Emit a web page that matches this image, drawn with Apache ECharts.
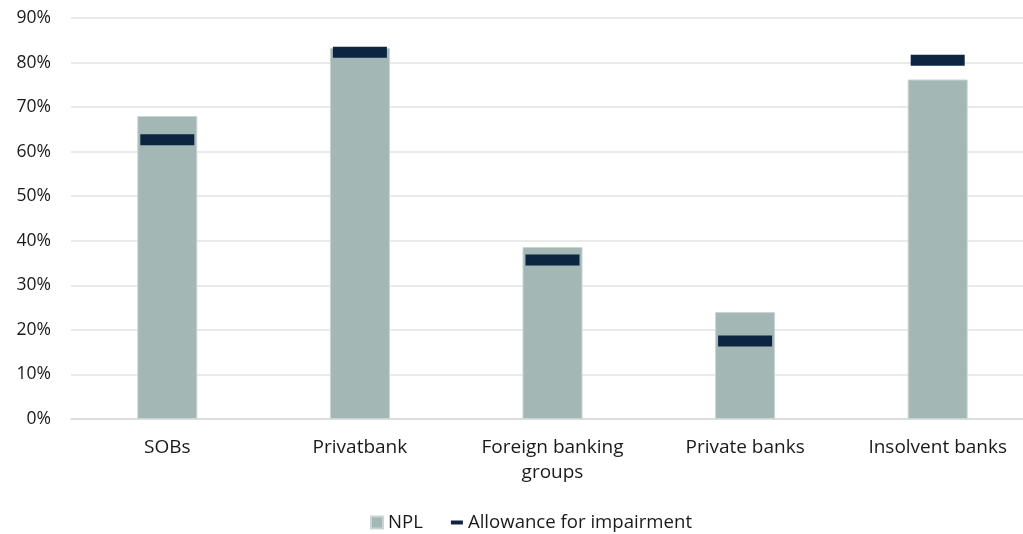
<!DOCTYPE html>
<html>
<head>
<meta charset="utf-8">
<script src="https://cdn.jsdelivr.net/npm/echarts@6/dist/echarts.min.js"></script>
<style>
  html, body { margin: 0; padding: 0; background: #ffffff; }
  #chart { width: 1023px; height: 534px; }
</style>
</head>
<body>
<div id="chart"></div>
<script>
// Bank groups on the category axis
const categories = ['SOBs', 'Privatbank', 'Foreign banking\ngroups', 'Private banks', 'Insolvent banks'];
// Non-performing loans, % of gross loans
const nplValues = [68.0, 83.3, 38.6, 24.0, 76.2];
// Allowance for impairment, % of gross loans
const allowanceValues = [62.7, 82.3, 35.7, 17.5, 80.5];
// Value axis ticks
const yTicks = [0, 10, 20, 30, 40, 50, 60, 70, 80, 90];

const FONT = '"Open Sans", "Noto Sans", sans-serif';
const TEXT = '#1a1a1a';
const NAVY = '#0d2541';

const chart = echarts.init(document.getElementById('chart'), null, { renderer: 'canvas' });

chart.setOption({
  animation: false,
  backgroundColor: '#ffffff',
  // the plot runs slightly past the right edge of the canvas
  grid: { left: 71, top: 18, width: 963, height: 401, outerBoundsMode: 'none' },
  legend: {
    top: 508,
    left: 365,
    itemGap: 28,
    itemWidth: 12,
    itemHeight: 12,
    textStyle: { fontFamily: FONT, fontSize: 18.6, color: TEXT },
    data: [
      { name: 'NPL', icon: 'rect' },
      {
        name: 'Allowance for impairment',
        icon: 'path://M0,0 L12,0 L12,4 L0,4 Z',
        itemStyle: { color: NAVY, opacity: 1 }
      }
    ]
  },
  xAxis: {
    type: 'category',
    data: categories,
    axisLine: { show: true, lineStyle: { color: '#d9d9d9', width: 1.5 } },
    axisTick: { show: false },
    axisLabel: { fontFamily: FONT, fontSize: 19, color: TEXT, margin: 16, lineHeight: 25 }
  },
  yAxis: {
    type: 'value',
    min: yTicks[0],
    max: yTicks[yTicks.length - 1],
    interval: 10,
    axisLine: { show: false },
    axisTick: { show: false },
    splitLine: { lineStyle: { color: '#e3e3e3', width: 1.5 } },
    axisLabel: {
      fontFamily: FONT, fontSize: 17.5, color: TEXT, margin: 20,
      formatter: v => v + '%'
    }
  },
  series: [
    {
      name: 'NPL',
      type: 'bar',
      data: nplValues,
      barWidth: 60,
      itemStyle: { color: '#a3b7b5', borderColor: '#c9d5d4', borderWidth: 1 },
      z: 2
    },
    {
      name: 'Allowance for impairment',
      type: 'scatter',
      data: allowanceValues,
      symbol: 'rect',
      symbolSize: [54, 11],
      itemStyle: { color: NAVY, opacity: 1 },
      z: 3
    }
  ]
});
</script>
</body>
</html>
